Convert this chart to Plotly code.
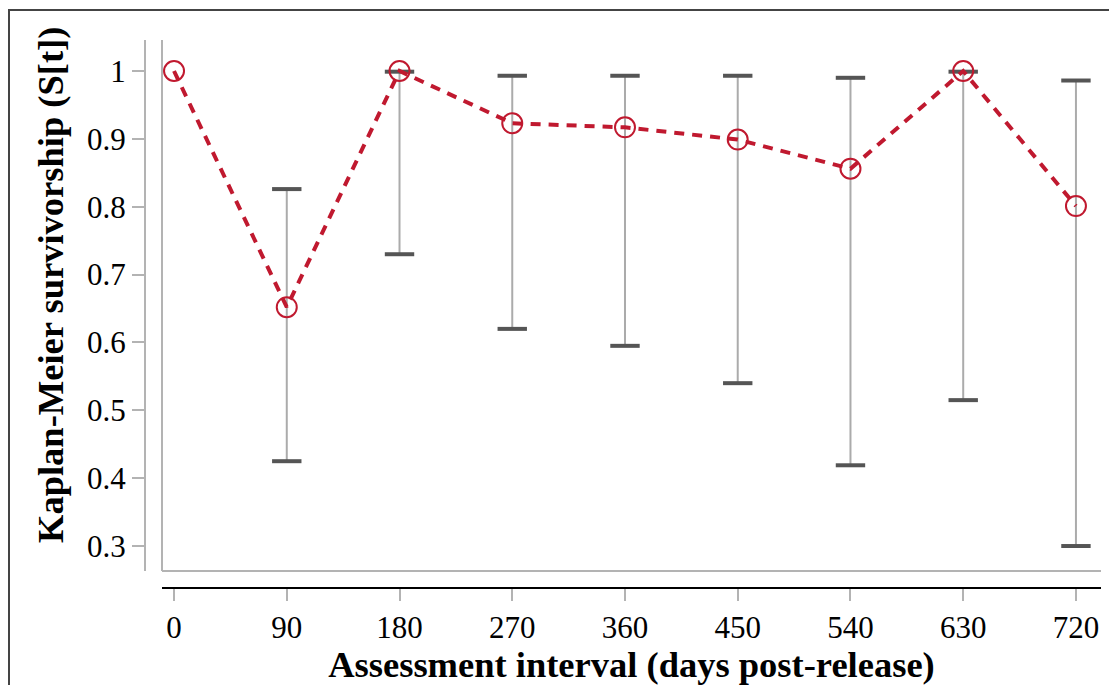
import plotly.graph_objects as go

# assessment interval (days post-release) and Kaplan-Meier estimates
days = [0, 90, 180, 270, 360, 450, 540, 630, 720]
survival = [1.0, 0.652, 1.0, 0.923, 0.917, 0.899, 0.856, 1.0, 0.801]
ci_upper = [None, 0.826, 0.999, 0.993, 0.993, 0.993, 0.990, 0.999, 0.986]
ci_lower = [None, 0.425, 0.730, 0.620, 0.595, 0.540, 0.419, 0.515, 0.300]

y_ticks = [0.3, 0.4, 0.5, 0.6, 0.7, 0.8, 0.9, 1]
y_labels = ["0.3", "0.4", "0.5", "0.6", "0.7", "0.8", "0.9", "1"]

red = "#c0192f"
stem_grey = "#ababab"
cap_grey = "#555555"
axis_grey = "#b3b3b3"
serif = "Liberation Serif, Times New Roman, serif"

ci_days = [d for d, u in zip(days, ci_upper) if u is not None]
up = [u for u in ci_upper if u is not None]
lo = [l for l in ci_lower if l is not None]
mid = [(u + l) / 2 for u, l in zip(up, lo)]
half = [(u - l) / 2 for u, l in zip(up, lo)]

fig = go.Figure()

# CI stems (no caps, grey)
fig.add_trace(go.Scatter(
    x=ci_days, y=mid, mode="markers",
    marker=dict(size=0.1, color="rgba(0,0,0,0)"),
    error_y=dict(type="data", array=half, visible=True, color=stem_grey,
                 thickness=2, width=0),
    hoverinfo="skip", showlegend=False,
))

# CI caps (dark grey, thick)
fig.add_trace(go.Scatter(
    x=ci_days + ci_days, y=up + lo, mode="markers",
    marker=dict(symbol="line-ew", size=21, line=dict(color=cap_grey, width=4)),
    hoverinfo="skip", showlegend=False,
))

# survival estimates
fig.add_trace(go.Scatter(
    x=days, y=survival, mode="lines+markers",
    line=dict(color=red, width=4, dash="10px,8px"),
    marker=dict(symbol="circle-open", size=20, color=red, line=dict(color=red, width=2)),
    showlegend=False,
))

# page body adds an 8px margin, so the figure is shifted by that much
W, H = 1109, 677
ml, mr, mt, mb = 137, 16, 32, 97
pw, ph = W - ml - mr, H - mt - mb

fig.update_layout(
    width=W, height=H,
    margin=dict(l=ml, r=mr, t=mt, b=mb),
    paper_bgcolor="white", plot_bgcolor="white",
    font=dict(family=serif, color="black", size=31),
    xaxis=dict(
        domain=[17 / pw, 1],
        range=[-9.6, 740],
        anchor="free", position=0,
        tickvals=days, ticktext=[str(d) for d in days],
        ticks="outside", ticklen=12, tickwidth=2, tickcolor=axis_grey,
        showline=True, linecolor="black", linewidth=2,
        showgrid=False, zeroline=False,
        title=dict(text="<b>Assessment interval (days post-release)</b>",
                   font=dict(size=36.5), standoff=2),
    ),
    yaxis=dict(
        domain=[17 / ph, 1],
        range=[0.2632, 1.0457],
        anchor="free", position=0,
        tickvals=y_ticks, ticktext=y_labels,
        ticks="outside", ticklen=12, tickwidth=2, tickcolor=axis_grey,
        showline=True, linecolor=axis_grey, linewidth=2,
        showgrid=False, zeroline=False,
    ),
    annotations=[
        dict(text="<b>Kaplan-Meier survivorship (S[t])</b>", textangle=-90,
             xref="paper", yref="paper", x=(42 - ml) / pw, y=(H - mb - 277) / ph,
             xanchor="center", yanchor="middle", showarrow=False,
             font=dict(size=36.5)),
    ],
    shapes=[
        dict(type="line", xref="x domain", yref="y domain", x0=0, x1=0, y0=0, y1=1,
             line=dict(color=axis_grey, width=2)),
        dict(type="line", xref="x domain", yref="y domain", x0=0, x1=1, y0=0, y1=0,
             line=dict(color=axis_grey, width=2)),
        dict(type="rect", xref="paper", yref="paper",
             x0=(1 - ml) / pw, x1=(W + 20 - ml) / pw,
             y0=(H - mb - (H + 20)) / ph, y1=(H - mb - 2) / ph,
             line=dict(color="#444444", width=2), layer="below"),
    ],
)

fig.write_html("out.html")
